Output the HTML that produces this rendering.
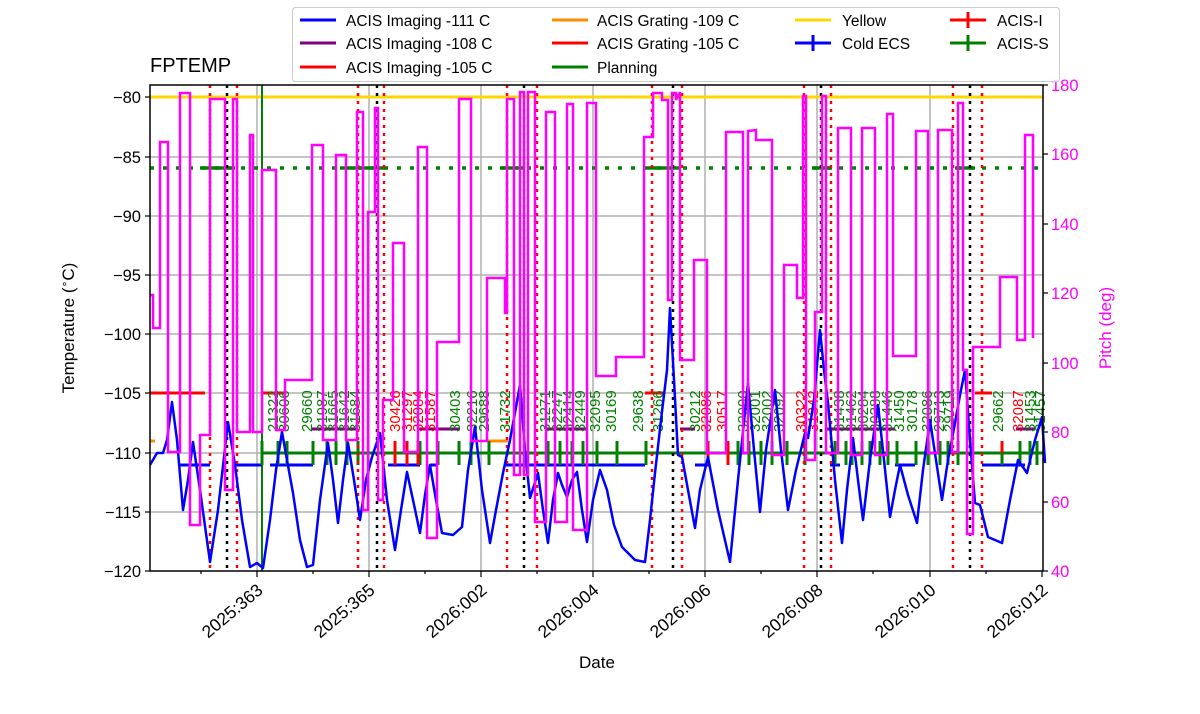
<!DOCTYPE html>
<html><head><meta charset="utf-8"><style>
body{margin:0;background:#fff}
svg{display:block;font-family:"Liberation Sans","DejaVu Sans",sans-serif}
</style></head><body>
<svg width="1200" height="714" viewBox="0 0 1200 714" xmlns="http://www.w3.org/2000/svg">
<rect width="1200" height="714" fill="#fff"/>
<!-- grid -->
<g stroke="#b0b0b0" stroke-width="1.5">
<line x1="257" y1="85" x2="257" y2="571"/><line x1="369" y1="85" x2="369" y2="571"/>
<line x1="481" y1="85" x2="481" y2="571"/><line x1="593" y1="85" x2="593" y2="571"/>
<line x1="705" y1="85" x2="705" y2="571"/><line x1="817" y1="85" x2="817" y2="571"/>
<line x1="930" y1="85" x2="930" y2="571"/>
<line x1="150" y1="97" x2="1043" y2="97"/><line x1="150" y1="157" x2="1043" y2="157"/>
<line x1="150" y1="216" x2="1043" y2="216"/><line x1="150" y1="275" x2="1043" y2="275"/>
<line x1="150" y1="334" x2="1043" y2="334"/><line x1="150" y1="393" x2="1043" y2="393"/>
<line x1="150" y1="453" x2="1043" y2="453"/><line x1="150" y1="512" x2="1043" y2="512"/>
</g>
<!-- yellow / planning dotted -->
<line x1="150" y1="97" x2="1043" y2="97" stroke="#ffd700" stroke-width="3"/>
<line x1="150" y1="168" x2="1043" y2="168" stroke="#008000" stroke-width="3.5" stroke-dasharray="4,9"/>
<g stroke="#008000" stroke-width="3.5">
<line x1="200" y1="168" x2="235" y2="168"/><line x1="340" y1="168" x2="385" y2="168"/>
<line x1="500" y1="168" x2="525" y2="168"/><line x1="648" y1="168" x2="680" y2="168"/>
<line x1="812" y1="168" x2="832" y2="168"/><line x1="955" y1="168" x2="975" y2="168"/>
</g>
<line x1="262" y1="85" x2="262" y2="571" stroke="#008000" stroke-width="2"/>
<!-- mode segments -->
<g stroke-width="3">
<g stroke="#ff0000">
<line x1="150" y1="393" x2="205" y2="393"/><line x1="262" y1="393" x2="285" y2="393"/>
<line x1="645" y1="393" x2="665" y2="393"/><line x1="975" y1="393" x2="992" y2="393"/>
<line x1="385" y1="453" x2="430" y2="453"/><line x1="545" y1="453" x2="595" y2="453"/>
<line x1="695" y1="453" x2="800" y2="453"/><line x1="985" y1="453" x2="1020" y2="453"/>
</g>
<g stroke="#800080">
<line x1="312" y1="429" x2="357" y2="429"/><line x1="418" y1="429" x2="460" y2="429"/>
<line x1="547" y1="429" x2="588" y2="429"/><line x1="680" y1="429" x2="695" y2="429"/>
<line x1="825" y1="429" x2="895" y2="429"/><line x1="1016" y1="429" x2="1035" y2="429"/>
</g>
<g stroke="#ff8c00"><line x1="150" y1="441" x2="155" y2="441"/><line x1="487" y1="441" x2="508" y2="441"/></g>
<g stroke="#0000ff">
<line x1="180" y1="465" x2="210" y2="465"/><line x1="235" y1="465" x2="262" y2="465"/>
<line x1="270" y1="465" x2="313" y2="465"/><line x1="388" y1="465" x2="420" y2="465"/>
<line x1="430" y1="465" x2="438" y2="465"/><line x1="505" y1="465" x2="595" y2="465"/>
<line x1="595" y1="465" x2="645" y2="465"/><line x1="695" y1="465" x2="710" y2="465"/>
<line x1="830" y1="465" x2="840" y2="465"/><line x1="895" y1="465" x2="915" y2="465"/>
<line x1="982" y1="465" x2="1025" y2="465"/>
</g>
<line x1="262" y1="453" x2="1043" y2="453" stroke="#008000"/>
<g stroke="#008000">
<line x1="262" y1="441" x2="262" y2="465"/><line x1="278" y1="441" x2="278" y2="465"/><line x1="287" y1="441" x2="287" y2="465"/>
<line x1="313" y1="441" x2="313" y2="465"/><line x1="327" y1="441" x2="327" y2="465"/><line x1="336" y1="441" x2="336" y2="465"/>
<line x1="347" y1="441" x2="347" y2="465"/><line x1="358" y1="441" x2="358" y2="465"/>
<line x1="420" y1="441" x2="420" y2="465"/><line x1="438" y1="441" x2="438" y2="465"/>
<line x1="459" y1="441" x2="459" y2="465"/><line x1="471" y1="441" x2="471" y2="465"/><line x1="489" y1="441" x2="489" y2="465"/>
<line x1="548" y1="441" x2="548" y2="465"/><line x1="560" y1="441" x2="560" y2="465"/><line x1="572" y1="441" x2="572" y2="465"/>
<line x1="583" y1="441" x2="583" y2="465"/><line x1="597" y1="441" x2="597" y2="465"/><line x1="617" y1="441" x2="617" y2="465"/>
<line x1="646" y1="441" x2="646" y2="465"/><line x1="738" y1="441" x2="738" y2="465"/><line x1="749" y1="441" x2="749" y2="465"/>
<line x1="761" y1="441" x2="761" y2="465"/><line x1="772" y1="441" x2="772" y2="465"/><line x1="787" y1="441" x2="787" y2="465"/>
<line x1="805" y1="441" x2="805" y2="465"/><line x1="835" y1="441" x2="835" y2="465"/><line x1="846" y1="441" x2="846" y2="465"/>
<line x1="852" y1="441" x2="852" y2="465"/><line x1="862" y1="441" x2="862" y2="465"/><line x1="870" y1="441" x2="870" y2="465"/>
<line x1="880" y1="441" x2="880" y2="465"/><line x1="888" y1="441" x2="888" y2="465"/><line x1="897" y1="441" x2="897" y2="465"/>
<line x1="916" y1="441" x2="916" y2="465"/><line x1="928" y1="441" x2="928" y2="465"/><line x1="940" y1="441" x2="940" y2="465"/>
<line x1="948" y1="441" x2="948" y2="465"/><line x1="958" y1="441" x2="958" y2="465"/>
<line x1="1002" y1="441" x2="1002" y2="465"/><line x1="1020" y1="441" x2="1020" y2="465"/><line x1="1030" y1="441" x2="1030" y2="465"/><line x1="1037" y1="441" x2="1037" y2="465"/>
</g>
<g stroke="#ff0000"><line x1="395" y1="441" x2="395" y2="465"/><line x1="407" y1="441" x2="407" y2="465"/><line x1="418" y1="441" x2="418" y2="465"/>
<line x1="708" y1="441" x2="708" y2="465"/><line x1="728" y1="441" x2="728" y2="465"/><line x1="1002" y1="441" x2="1002" y2="453"/></g>
</g>
<!-- obsid labels -->
<g font-size="15" fill="#008000">
<text transform="translate(278,432) rotate(-90)">21322</text>
<text transform="translate(289,432) rotate(-90)">30606</text>
<text transform="translate(312,432) rotate(-90)">29660</text>
<text transform="translate(327,432) rotate(-90)">31987</text>
<text transform="translate(338,432) rotate(-90)">31665</text>
<text transform="translate(349,432) rotate(-90)">31642</text>
<text transform="translate(360,432) rotate(-90)">31684</text>
<text transform="translate(460,432) rotate(-90)">30403</text>
<text transform="translate(477,432) rotate(-90)">32216</text>
<text transform="translate(489,432) rotate(-90)">29688</text>
<text transform="translate(510,432) rotate(-90)">31732</text>
<text transform="translate(550,432) rotate(-90)">31271</text>
<text transform="translate(562,432) rotate(-90)">32247</text>
<text transform="translate(573,432) rotate(-90)">32414</text>
<text transform="translate(585,432) rotate(-90)">32449</text>
<text transform="translate(600,432) rotate(-90)">32095</text>
<text transform="translate(616,432) rotate(-90)">30169</text>
<text transform="translate(643,432) rotate(-90)">29638</text>
<text transform="translate(663,432) rotate(-90)">31266</text>
<text transform="translate(700,432) rotate(-90)">30212</text>
<text transform="translate(748,432) rotate(-90)">32000</text>
<text transform="translate(760,432) rotate(-90)">32001</text>
<text transform="translate(772,432) rotate(-90)">32002</text>
<text transform="translate(784,432) rotate(-90)">32092</text>
<text transform="translate(844,432) rotate(-90)">31438</text>
<text transform="translate(856,432) rotate(-90)">31462</text>
<text transform="translate(868,432) rotate(-90)">30284</text>
<text transform="translate(880,432) rotate(-90)">30288</text>
<text transform="translate(892,432) rotate(-90)">31446</text>
<text transform="translate(904,432) rotate(-90)">31450</text>
<text transform="translate(917,432) rotate(-90)">30178</text>
<text transform="translate(932,432) rotate(-90)">32086</text>
<text transform="translate(944,432) rotate(-90)">29713</text>
<text transform="translate(954,432) rotate(-90)">29719</text>
<text transform="translate(1003,432) rotate(-90)">29662</text>
<text transform="translate(1035,432) rotate(-90)">31453</text>
<text transform="translate(1045,432) rotate(-90)">31457</text>
</g>
<g font-size="15" fill="#ff0000">
<text transform="translate(400,432) rotate(-90)">30426</text>
<text transform="translate(412,432) rotate(-90)">31297</text>
<text transform="translate(423,432) rotate(-90)">32084</text>
<text transform="translate(435,432) rotate(-90)">31587</text>
<text transform="translate(711,432) rotate(-90)">32086</text>
<text transform="translate(727,432) rotate(-90)">30517</text>
<text transform="translate(806,432) rotate(-90)">30322</text>
<text transform="translate(818,432) rotate(-90)">31342</text>
<text transform="translate(1023,432) rotate(-90)">32087</text>
</g>
<!-- vertical dotted lines -->
<g stroke-width="2.5" stroke-dasharray="3,5">
<g stroke="#ff0000">
<line x1="210" y1="85" x2="210" y2="571"/><line x1="237" y1="85" x2="237" y2="571"/>
<line x1="358" y1="85" x2="358" y2="571"/><line x1="384" y1="85" x2="384" y2="571"/>
<line x1="507" y1="85" x2="507" y2="571"/><line x1="537" y1="85" x2="537" y2="571"/>
<line x1="652" y1="85" x2="652" y2="571"/><line x1="682" y1="85" x2="682" y2="571"/>
<line x1="804" y1="85" x2="804" y2="571"/><line x1="831" y1="85" x2="831" y2="571"/>
<line x1="953" y1="85" x2="953" y2="571"/><line x1="982" y1="85" x2="982" y2="571"/>
</g>
<g stroke="#000">
<line x1="227" y1="85" x2="227" y2="571"/><line x1="377" y1="85" x2="377" y2="571"/>
<line x1="524" y1="85" x2="524" y2="571"/><line x1="673" y1="85" x2="673" y2="571"/>
<line x1="821" y1="85" x2="821" y2="571"/><line x1="970" y1="85" x2="970" y2="571"/>
</g>
</g>
<!-- temperature -->
<polyline fill="none" stroke="#0000ff" stroke-width="2.5" stroke-linejoin="round" points="150,465 157,453 163,453 167,440 172,402 177,440 183,510 188,480 193,442 200,490 210,562 218,510 228,422 235,465 242,520 250,567 257,563 263,568 270,520 276,470 282,432 287,460 293,493 300,540 307,567 313,565 320,500 328,443 333,480 338,523 343,480 348,443 354,480 360,520 366,480 372,457 380,433 387,500 395,550 401,510 407,472 413,500 420,533 425,495 430,465 436,500 442,533 453,535 462,527 468,470 475,427 482,490 490,543 496,510 503,473 510,440 520,385 525,450 530,498 538,473 543,510 548,543 553,500 558,473 562,485 567,497 572,480 577,472 582,510 587,542 593,500 600,470 607,490 614,525 622,547 635,560 645,562 650,520 655,473 661,420 667,370 670,308 674,380 678,455 682,457 688,490 695,528 700,490 708,457 718,510 730,562 738,480 748,383 754,450 760,512 766,450 775,390 781,450 788,510 796,470 805,433 808,438 814,400 820,330 824,370 828,403 835,480 842,543 847,490 853,438 858,480 863,520 870,460 878,405 884,460 890,517 895,490 900,465 908,495 917,523 923,470 930,420 936,460 942,500 948,460 955,423 960,395 965,370 970,440 975,503 980,505 988,537 1002,543 1010,500 1018,460 1027,473 1035,440 1042,417 1045,463"/>
<!-- pitch -->
<polyline fill="none" stroke="#ff00ff" stroke-width="2.5" points="150,295 153,295 153,328 160,328 160,142 168,142 168,452 180,452 180,93 190,93 190,525 200,525 200,435 210,435 210,99 225,99 225,490 233,490 233,99 237,99 237,432 250,432 250,135 253,135 253,432 262,432 262,170 276,170 276,430 285,430 285,380 312,380 312,145 323,145 323,440 336,440 336,155 346,155 346,440 357,440 357,112 363,112 363,510 368,510 368,212 375,212 375,108 378,108 378,500 383,500 383,400 393,400 393,243 404,243 404,452 418,452 418,147 427,147 427,538 437,538 437,342 459,342 459,99 471,99 471,441 487,441 487,278 505,278 505,313 507,313 507,99 514,99 514,475 520,475 520,92 524,92 524,475 528,475 528,92 535,92 535,522 546,522 546,112 555,112 555,522 567,522 567,104 573,104 573,530 587,530 587,103 596,103 596,376 616,376 616,357 644,357 644,137 653,137 653,93 662,93 662,100 668,100 668,300 672,300 672,93 676,93 676,100 680,92 680,360 694,360 694,260 707,260 707,453 726,453 726,132 743,132 743,453 748,453 748,131 756,130 756,140 772,140 772,455 784,455 784,265 797,265 797,298 803,298 803,96 806,96 806,460 815,460 815,312 822,312 822,96 826,96 826,453 838,453 838,128 851,128 851,455 862,455 862,128 875,128 875,455 887,455 887,114 893,114 893,356 916,356 916,131 928,131 928,453 938,453 938,130 952,130 952,452 958,452 958,103 963,103 963,370 967,370 967,534 973,534 973,347 1000,347 1000,277 1017,277 1017,340 1025,340 1025,135 1033,135 1033,338"/>
<!-- axes frame -->
<rect x="150" y="85" width="893" height="486" fill="none" stroke="#000" stroke-width="1.5"/>
<!-- ticks -->
<g stroke="#000" stroke-width="1.2">
<line x1="145" y1="97" x2="150" y2="97"/><line x1="145" y1="157" x2="150" y2="157"/><line x1="145" y1="216" x2="150" y2="216"/>
<line x1="145" y1="275" x2="150" y2="275"/><line x1="145" y1="334" x2="150" y2="334"/><line x1="145" y1="393" x2="150" y2="393"/>
<line x1="145" y1="453" x2="150" y2="453"/><line x1="145" y1="512" x2="150" y2="512"/><line x1="145" y1="571" x2="150" y2="571"/>
<line x1="1043" y1="85" x2="1048" y2="85"/><line x1="1043" y1="154" x2="1048" y2="154"/><line x1="1043" y1="224" x2="1048" y2="224"/>
<line x1="1043" y1="293" x2="1048" y2="293"/><line x1="1043" y1="363" x2="1048" y2="363"/><line x1="1043" y1="432" x2="1048" y2="432"/>
<line x1="1043" y1="502" x2="1048" y2="502"/><line x1="1043" y1="571" x2="1048" y2="571"/>
<line x1="257" y1="571" x2="257" y2="577"/><line x1="369" y1="571" x2="369" y2="577"/><line x1="481" y1="571" x2="481" y2="577"/>
<line x1="593" y1="571" x2="593" y2="577"/><line x1="705" y1="571" x2="705" y2="577"/><line x1="817" y1="571" x2="817" y2="577"/>
<line x1="930" y1="571" x2="930" y2="577"/><line x1="1042" y1="571" x2="1042" y2="577"/>
<line x1="201" y1="571" x2="201" y2="574"/><line x1="313" y1="571" x2="313" y2="574"/><line x1="425" y1="571" x2="425" y2="574"/>
<line x1="537" y1="571" x2="537" y2="574"/><line x1="649" y1="571" x2="649" y2="574"/><line x1="761" y1="571" x2="761" y2="574"/>
<line x1="873" y1="571" x2="873" y2="574"/><line x1="986" y1="571" x2="986" y2="574"/>
</g>
<g font-size="16.5" fill="#000" text-anchor="end">
<text x="141" y="103">−80</text><text x="141" y="163">−85</text><text x="141" y="222">−90</text>
<text x="141" y="281">−95</text><text x="141" y="340">−100</text><text x="141" y="399">−105</text>
<text x="141" y="459">−110</text><text x="141" y="518">−115</text><text x="141" y="577">−120</text>
</g>
<g font-size="16.5" fill="#ff00ff">
<text x="1051" y="91">180</text><text x="1051" y="160">160</text><text x="1051" y="230">140</text>
<text x="1051" y="299">120</text><text x="1051" y="369">100</text><text x="1051" y="438">80</text>
<text x="1051" y="508">60</text><text x="1051" y="577">40</text>
<text transform="translate(1111,328) rotate(-90)" text-anchor="middle" font-size="17">Pitch (deg)</text>
</g>
<g font-size="17.5" fill="#000" text-anchor="end">
<text transform="translate(264,592) rotate(-40)">2025:363</text>
<text transform="translate(376,592) rotate(-40)">2025:365</text>
<text transform="translate(488,592) rotate(-40)">2026:002</text>
<text transform="translate(600,592) rotate(-40)">2026:004</text>
<text transform="translate(712,592) rotate(-40)">2026:006</text>
<text transform="translate(824,592) rotate(-40)">2026:008</text>
<text transform="translate(937,592) rotate(-40)">2026:010</text>
<text transform="translate(1049,592) rotate(-40)">2026:012</text>
</g>
<text x="597" y="668" font-size="17" text-anchor="middle">Date</text>
<text transform="translate(74,328) rotate(-90)" font-size="17" text-anchor="middle">Temperature (<tspan baseline-shift="super" font-size="11">∘</tspan>C)</text>
<text x="150" y="72" font-size="20">FPTEMP</text>
<!-- legend -->
<rect x="292.5" y="7.5" width="767" height="74" rx="3" fill="#fff" fill-opacity="0.85" stroke="#ccc"/>
<g stroke-width="3">
<line x1="300" y1="20" x2="336" y2="20" stroke="#0000ff"/>
<line x1="300" y1="43" x2="336" y2="43" stroke="#800080"/>
<line x1="300" y1="67" x2="336" y2="67" stroke="#ff0000"/>
<line x1="552" y1="20" x2="588" y2="20" stroke="#ff8c00"/>
<line x1="552" y1="43" x2="588" y2="43" stroke="#ff0000"/>
<line x1="552" y1="67" x2="588" y2="67" stroke="#008000"/>
<line x1="795" y1="20" x2="831" y2="20" stroke="#ffd700"/>
<line x1="950" y1="20" x2="986" y2="20" stroke="#ff0000"/><line x1="968" y1="12" x2="968" y2="28" stroke="#ff0000"/>
<line x1="795" y1="43" x2="831" y2="43" stroke="#0000ff"/><line x1="813" y1="35" x2="813" y2="51" stroke="#0000ff"/>
<line x1="950" y1="43" x2="986" y2="43" stroke="#008000"/><line x1="968" y1="35" x2="968" y2="51" stroke="#008000"/>
</g>
<g font-size="15.5" fill="#000">
<text x="346" y="26">ACIS Imaging -111 C</text>
<text x="346" y="49">ACIS Imaging -108 C</text>
<text x="346" y="73">ACIS Imaging -105 C</text>
<text x="597" y="26">ACIS Grating -109 C</text>
<text x="597" y="49">ACIS Grating -105 C</text>
<text x="597" y="73">Planning</text>
<text x="842" y="26">Yellow</text>
<text x="842" y="49">Cold ECS</text>
<text x="997" y="26">ACIS-I</text>
<text x="997" y="49">ACIS-S</text>
</g>
</svg>
</body></html>
